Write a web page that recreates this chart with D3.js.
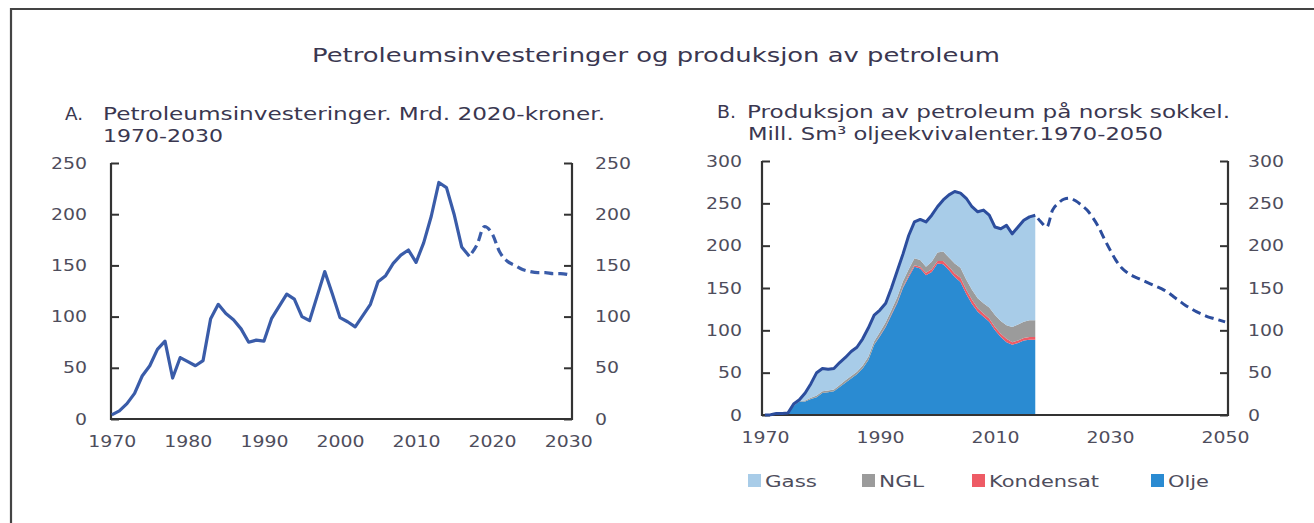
<!DOCTYPE html>
<html><head><meta charset="utf-8">
<script src="https://cdn.jsdelivr.net/npm/d3@7/dist/d3.min.js"></script>
<style>body{margin:0;background:#fff}svg{display:block}</style>
</head><body><svg id="c" width="1314" height="523"></svg>
<script>
// ---------- DATA ----------
// Panel A: petroleum investments, bn 2020-NOK
const investStart = 1970;
const investHist = [4,8,15,25,42,52,68,76,40,60,56,52,57,98,112,103,97,88,75,77,76,98,110,122,117,100,96,120,144,122,99,95,90,101,112,134,140,152,160,165,153,172,198,231,226,200,168,159];
const investProjStart = 2017;
const investProj = [159,170,188,181,163,154,150,146,144,143,143,142,142,141];
const aYTicks = [0,50,100,150,200,250];
const aXTicks = [1970,1980,1990,2000,2010,2020,2030];

// Panel B: production, mill. Sm3 o.e.
const prodStart = 1970;
const olje      = [0,0.4,1.9,1.9,2.0,11,16,16,19,21,26,27,28,33,38,43,48,55,65,83,93,104,118,132,150,163,175,173,165,169,179,178,171,163,157,143,131,122,116,110,100,92,86,83,85,88,89,89];
const kondensat = [0,0,0,0,0,0,0,0,0,0,0,0,0,0,0,0,0,0,0,0,0.5,0.5,1,1,1,2,2,2,3,3,3,4,4,4,5,5,5,4,4,4,4,4,4,3,3,3,3,3];
const ngl       = [0,0,0,0,0,0.5,0.5,1,1.5,2,2,2,2,2.5,3,3,3,3.5,4,4,4.5,5,5,6,7,7,8,8,7,9,10,11,11,12,12,12,12,12,12,13,14,15,16,18,19,19,20,20];
const gass      = [0,0,0,0,0.3,1.5,1.5,9,16.5,27,27,25,25,26.5,27,29,29,31.5,34,31,26,22.5,26,31,32,40,43,48,53,55,54,61,74,85,88,96,98,102,110,109,104,109,118,110,115,120,122,124];
const prodProjStart = 2017;
const prodProj = [236,228,222,242,250,255,256,253,248,242,233,222,208,195,183,174,168,164,161,158,155,152,149,145,140,135,130,126,122,119,116,114,112,110];
const bYTicks = [0,50,100,150,200,250,300];
const bXTicks = [1970,1990,2010,2030,2050];

const seriesKeys = ["olje","kondensat","ngl","gass"];
const seriesColors = {olje:"#2a8bd2", kondensat:"#ee5b65", ngl:"#9b9b9b", gass:"#a8cce8"};
const legendItems = [["gass","Gass"],["ngl","NGL"],["kondensat","Kondensat"],["olje","Olje"]];

// ---------- DRAW ----------
const svg = d3.select("#c");
const FONT = "'DejaVu Sans', 'Open Sans', sans-serif";
const TITLE_C = "#3a3750", TICK_C = "#4e4d5c", AXIS_C = "#333";

// frame
svg.append("path").attr("d","M11,530V9H1320").attr("fill","none").attr("stroke","#444").attr("stroke-width",2.2);

function fitText(x, y, str, size, len, anchor){
  return svg.append("text").attr("x",x).attr("y",y).text(str)
    .attr("font-family",FONT).attr("font-size",size).attr("fill",TITLE_C)
    .attr("text-anchor",anchor||"start")
    .attr("textLength",len).attr("lengthAdjust","spacingAndGlyphs");
}
fitText(312,62,"Petroleumsinvesteringer og produksjon av petroleum",19.5,688);
fitText(65,120,"A.",18.5,18);
fitText(103,120,"Petroleumsinvesteringer. Mrd. 2020-kroner.",18.5,502);
fitText(103,142,"1970-2030",18.5,120);
fitText(717,118,"B.",18.5,19);
fitText(747,118,"Produksjon av petroleum på norsk sokkel.",18.5,483);
fitText(748,140,"Mill. Sm³ oljeekvivalenter.1970-2050",18.5,415);

function styleTicks(g){
  g.select(".domain").remove();
  g.selectAll(".tick line").attr("stroke",AXIS_C).attr("stroke-width",2);
  g.selectAll(".tick text").attr("fill",TICK_C).attr("font-family",FONT).attr("font-size",16)
    .each(function(){ const t=d3.select(this); t.attr("textLength", t.text().length*12).attr("lengthAdjust","spacingAndGlyphs"); });
}

function frame(x0,x1,y0,y1){
  svg.append("path").attr("d",`M${x0},${y0}V${y1}H${x1}V${y0}`)
    .attr("fill","none").attr("stroke",AXIS_C).attr("stroke-width",2.2);
}

// ----- Panel A -----
const xA = d3.scaleLinear().domain([1969.9,2030.5]).range([111,572]);
const yA = d3.scaleLinear().domain([0,250]).range([419,163]);
const aL = 111, aR = 572;
svg.append("g").attr("transform",`translate(${aL},0)`)
  .call(d3.axisLeft(yA).tickValues(aYTicks).tickSizeInner(-8).tickSizeOuter(0).tickPadding(24)).call(styleTicks);
svg.append("g").attr("transform",`translate(${aR},0)`)
  .call(d3.axisRight(yA).tickValues(aYTicks).tickSizeInner(-8).tickSizeOuter(0).tickPadding(23).tickFormat(d3.format("d"))).call(styleTicks);
svg.append("g").attr("transform",`translate(0,${yA(0)})`)
  .call(d3.axisBottom(xA).tickValues(aXTicks).tickSize(0).tickPadding(17).tickFormat(d3.format("d"))).call(styleTicks);
frame(aL,aR,yA(250),yA(0));

const lineA = d3.line().x(d=>xA(d[0])).y(d=>yA(d[1]));
const histA = investHist.map((v,i)=>[investStart+i,v]);
const projA = investProj.map((v,i)=>[investProjStart+i,v]);
svg.append("path").datum(histA).attr("d",lineA).attr("fill","none").attr("stroke","#3a5ca9").attr("stroke-width",3.2).attr("stroke-linejoin","round");
svg.append("path").datum(projA).attr("d",lineA.curve(d3.curveMonotoneX)).attr("fill","none").attr("stroke","#3a5ca9").attr("stroke-width",3.2).attr("stroke-dasharray","9,5").attr("stroke-dashoffset",-4);

// ----- Panel B -----
const xB = d3.scaleLinear().domain([1969.5,2050.5]).range([762,1228]);
const yB = d3.scaleLinear().domain([0,300]).range([415,161]);
const bL = 762, bR = 1228;

const rows = olje.map((v,i)=>({year:prodStart+i, olje:v, kondensat:kondensat[i], ngl:ngl[i], gass:gass[i]}));
const stacked = d3.stack().keys(seriesKeys)(rows);
const areaB = d3.area().x(d=>xB(d.data.year)).y0(d=>yB(d[0])).y1(d=>yB(d[1]));
svg.append("g").selectAll("path").data(stacked).join("path")
  .attr("d",areaB).attr("fill",d=>seriesColors[d.key]);

svg.append("g").attr("transform",`translate(${bL},0)`)
  .call(d3.axisLeft(yB).tickValues(bYTicks).tickSizeInner(-8).tickSizeOuter(0).tickPadding(20)).call(styleTicks);
svg.append("g").attr("transform",`translate(${bR},0)`)
  .call(d3.axisRight(yB).tickValues(bYTicks).tickSizeInner(-8).tickSizeOuter(0).tickPadding(20)).call(styleTicks);
svg.append("g").attr("transform",`translate(0,${yB(0)})`)
  .call(d3.axisBottom(xB).tickValues(bXTicks).tickSize(0).tickPadding(17).tickFormat(d3.format("d"))).call(styleTicks);
frame(bL,bR,yB(300),yB(0));

const topStack = stacked[stacked.length-1];
const lineB = d3.line().x(d=>xB(d[0])).y(d=>yB(d[1]));
svg.append("path").datum(topStack.map(d=>[d.data.year,d[1]])).attr("d",lineB)
  .attr("fill","none").attr("stroke","#2c4d9d").attr("stroke-width",3).attr("stroke-linejoin","round");
svg.append("path").datum(prodProj.map((v,i)=>[prodProjStart+i,v])).attr("d",lineB.curve(d3.curveMonotoneX))
  .attr("fill","none").attr("stroke","#2c4d9d").attr("stroke-width",3).attr("stroke-dasharray","9,5").attr("stroke-dashoffset",-4);

// legend
const legX = [748,862,972,1151];
const legW = [52,45,110,41];
const leg = svg.append("g");
legendItems.forEach(([k,label],i)=>{
  leg.append("rect").attr("x",legX[i]).attr("y",474).attr("width",13).attr("height",13).attr("fill",seriesColors[k]);
  leg.append("text").attr("x",legX[i]+17).attr("y",486.5).text(label)
    .attr("font-family",FONT).attr("font-size",16).attr("fill",TICK_C)
    .attr("textLength",legW[i]).attr("lengthAdjust","spacingAndGlyphs");
});
</script></body></html>
